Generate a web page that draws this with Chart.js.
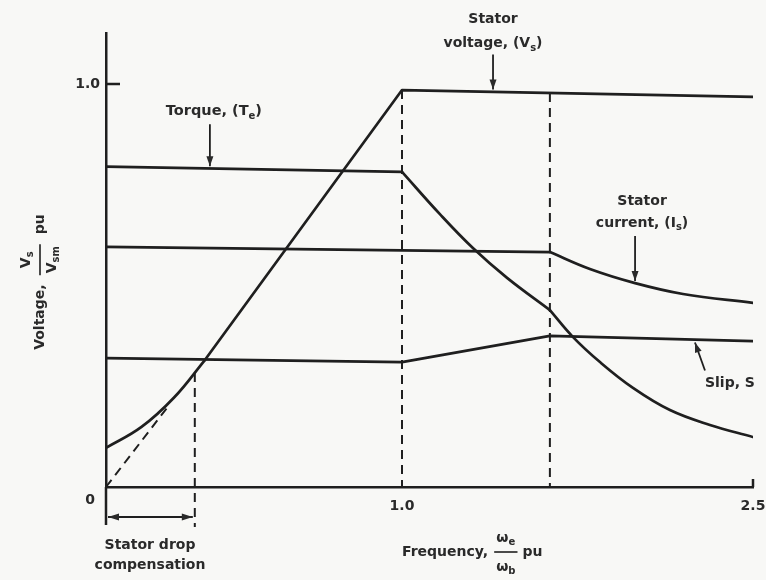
<!DOCTYPE html>
<html lang="en">
<head>
<meta charset="UTF-8">
<title>Variable frequency characteristics</title>
<script src="https://cdn.jsdelivr.net/npm/chart.js"></script>
<style>
  html, body { margin: 0; padding: 0; background: #f8f8f6; }
  #wrap { width: 766px; height: 580px; }
</style>
</head>
<body>
<div id="wrap"><canvas id="chart" width="766" height="580"></canvas></div>
<script>
// all values in pu
const baseFreq = 1.0;        // end of constant torque region
const fwFreq = 1.632;        // start of high speed region
const dropFreq = 0.30;       // end of stator drop compensation

// stator voltage
const voltBoostX = [0, 0.12, 0.23, 0.334];
const voltBoostY = [0.097, 0.149, 0.222, 0.315];
const voltX = [0.334, 1.0, 2.5];
const voltY = [0.315, 0.985, 0.968];
const voltIdealX = [0, 0.21];
const voltIdealY = [0, 0.20];

// torque
const torqueFlatX = [0, 1.0];
const torqueFlatY = [0.795, 0.782];
const torqueFall1X = [1.0, 1.162, 1.303, 1.449, 1.632];
const torqueFall1Y = [0.782, 0.677, 0.593, 0.519, 0.439];
const torqueFall2X = [1.632, 1.731, 1.846, 1.987, 2.145, 2.316, 2.5];
const torqueFall2Y = [0.439, 0.372, 0.310, 0.246, 0.191, 0.154, 0.124];

// stator current
const currentFlatX = [0, 1.632];
const currentFlatY = [0.596, 0.583];
const currentFallX = [1.632, 1.803, 1.996, 2.201, 2.5];
const currentFallY = [0.583, 0.541, 0.506, 0.479, 0.457];

// slip
const slipX = [0, 1.0, 1.632, 2.5];
const slipY = [0.320, 0.310, 0.375, 0.362];

// vertical guides (top, bottom)
const dropGuideY = [0.283, -0.099];
const baseGuideY = [0.985, 0];
const fwGuideY = [0.978, 0];

const xTicks = [0, 1.0, 2.5];
const xTickLabels = ['0', '1.0', '2.5'];
const yTicks = [1.0];
const yTickLabels = ['1.0'];

const INK = '#1f1f1f';
const TEXT = '#2a2a2a';
const FONT = '"DejaVu Sans"';

// the frequency axis of the figure is drawn with 0..1.0 and 1.0..2.5 at different spacings
const KNEE = 1.0;
const KNEE_FRAC = 296 / 647;

class KneeScale extends Chart.LinearScale {
    static id = 'knee';
    static defaults = Chart.LinearScale.defaults;

    getPixelForValue(value) {
        if (value === null || value === undefined) return NaN;
        let f;
        if (value <= KNEE) f = (value - this.min) / (KNEE - this.min) * KNEE_FRAC;
        else f = KNEE_FRAC + (value - KNEE) / (this.max - KNEE) * (1 - KNEE_FRAC);
        return this.getPixelForDecimal(f);
    }

    getValueForPixel(pixel) {
        const f = this.getDecimalForPixel(pixel);
        if (f <= KNEE_FRAC) return this.min + f / KNEE_FRAC * (KNEE - this.min);
        return KNEE + (f - KNEE_FRAC) / (1 - KNEE_FRAC) * (this.max - KNEE);
    }
}
Chart.register(KneeScale);

const pts = (xs, ys) => xs.map((x, i) => ({ x: x, y: ys[i] }));

function solid(xs, ys, curved) {
    return {
        data: pts(xs, ys),
        borderColor: INK,
        borderWidth: 2.7,
        pointRadius: 0,
        fill: false,
        tension: curved ? 0.4 : 0,
        borderCapStyle: 'round',
        borderJoinStyle: 'round'
    };
}

function dashed(xs, ys) {
    return {
        data: pts(xs, ys),
        borderColor: INK,
        borderWidth: 2,
        borderDash: [9, 6],
        pointRadius: 0,
        fill: false,
        tension: 0,
        clip: false
    };
}

function sized(size, weight) {
    return (weight || 'bold') + ' ' + size + 'px ' + FONT;
}

// text made of [string, isSubscript] parts
function richWidth(ctx, parts, size) {
    let w = 0;
    parts.forEach(p => {
        ctx.font = sized(p[1] ? Math.round(size * 0.68) : size);
        w += ctx.measureText(p[0]).width;
    });
    return w;
}

function drawRich(ctx, parts, x, y, size, align) {
    const w = richWidth(ctx, parts, size);
    let cx = align === 'left' ? x : (align === 'right' ? x - w : x - w / 2);
    ctx.textAlign = 'left';
    ctx.textBaseline = 'middle';
    parts.forEach(p => {
        ctx.font = sized(p[1] ? Math.round(size * 0.68) : size);
        ctx.fillText(p[0], cx, y + (p[1] ? size * 0.34 : 0));
        cx += ctx.measureText(p[0]).width;
    });
    return w;
}

function drawFrac(ctx, num, den, x, y, size, up, down) {
    const w = Math.max(richWidth(ctx, num, size), richWidth(ctx, den, size)) + 4;
    drawRich(ctx, num, x + w / 2, y - up, size, 'center');
    drawRich(ctx, den, x + w / 2, y + down, size, 'center');
    ctx.beginPath();
    ctx.lineWidth = 1.6;
    ctx.moveTo(x, y);
    ctx.lineTo(x + w, y);
    ctx.stroke();
    return w;
}

function arrowHead(ctx, x1, y1, x2, y2, len, half) {
    const a = Math.atan2(y2 - y1, x2 - x1);
    ctx.beginPath();
    ctx.moveTo(x2, y2);
    ctx.lineTo(x2 - len * Math.cos(a) + half * Math.sin(a), y2 - len * Math.sin(a) - half * Math.cos(a));
    ctx.lineTo(x2 - len * Math.cos(a) - half * Math.sin(a), y2 - len * Math.sin(a) + half * Math.cos(a));
    ctx.closePath();
    ctx.fill();
}

function arrow(ctx, x1, y1, x2, y2) {
    ctx.beginPath();
    ctx.lineWidth = 1.8;
    ctx.moveTo(x1, y1);
    ctx.lineTo(x2, y2);
    ctx.stroke();
    arrowHead(ctx, x1, y1, x2, y2, 10, 3.5);
}

const annotations = {
    id: 'annotations',
    afterDatasetsDraw(chart) {
        const ctx = chart.ctx;
        const xs = chart.scales.x, ys = chart.scales.y;
        const X = v => xs.getPixelForValue(v), Y = v => ys.getPixelForValue(v);
        const x0 = X(0), y0 = Y(0);
        ctx.save();
        ctx.strokeStyle = INK;
        ctx.fillStyle = TEXT;
        ctx.lineCap = 'butt';

        // axis extras: extension of the y axis, inward tick marks
        ctx.beginPath();
        ctx.lineWidth = 2.5;
        ctx.moveTo(x0, y0);
        ctx.lineTo(x0, y0 + 38);
        ctx.moveTo(x0, Y(yTicks[0]));
        ctx.lineTo(x0 + 14, Y(yTicks[0]));
        ctx.moveTo(X(2.5), y0);
        ctx.lineTo(X(2.5), y0 - 8);
        ctx.stroke();

        // stator drop compensation span
        const ya = y0 + 30;
        ctx.beginPath();
        ctx.lineWidth = 1.8;
        ctx.moveTo(x0 + 2, ya);
        ctx.lineTo(X(dropFreq) - 2, ya);
        ctx.stroke();
        arrowHead(ctx, X(dropFreq), ya, x0 + 2, ya, 11, 3.5);
        arrowHead(ctx, x0, ya, X(dropFreq) - 2, ya, 11, 3.5);

        drawRich(ctx, [['Stator drop', false]], x0 + 44, y0 + 58, 14, 'center');
        drawRich(ctx, [['compensation', false]], x0 + 44, y0 + 78, 14, 'center');

        // origin label
        drawRich(ctx, [[xTickLabels[0], false]], x0 - 16, y0 + 13, 14, 'center');

        // torque
        const tx = X(0.351), tyTip = Y(0.791) - 2;
        arrow(ctx, tx, tyTip - 42, tx, tyTip);
        drawRich(ctx, [['Torque, (T', false], ['e', true], [')', false]], tx + 4, tyTip - 55, 14.5, 'center');

        // stator voltage
        const vx = X(1.389), vyTip = Y(0.979) - 3;
        arrow(ctx, vx, vyTip - 35, vx, vyTip);
        drawRich(ctx, [['Stator', false]], vx, vyTip - 70, 14, 'center');
        drawRich(ctx, [['voltage, (V', false], ['s', true], [')', false]], vx, vyTip - 46, 14, 'center');

        // stator current
        const cx = X(1.996), cyTip = Y(0.506) - 2;
        arrow(ctx, cx, cyTip - 45, cx, cyTip);
        drawRich(ctx, [['Stator', false]], cx + 7, cyTip - 80, 14, 'center');
        drawRich(ctx, [['current, (I', false], ['s', true], [')', false]], cx + 7, cyTip - 58, 14, 'center');

        // slip
        const sx = X(2.252), syTip = Y(0.366) + 3;
        arrow(ctx, sx + 10, syTip + 28, sx, syTip);
        drawRich(ctx, [['Slip, S', false]], sx + 10, syTip + 41, 14, 'left');

        // y axis title, rotated
        ctx.save();
        ctx.translate(40, 282);
        ctx.rotate(-Math.PI / 2);
        const yParts1 = [['Voltage,', false]];
        const yNum = [['V', false], ['s', true]];
        const yDen = [['V', false], ['sm', true]];
        const w1 = richWidth(ctx, yParts1, 14);
        const wf = Math.max(richWidth(ctx, yNum, 14), richWidth(ctx, yDen, 14)) + 4;
        const w3 = richWidth(ctx, [['pu', false]], 14);
        let px = -(w1 + 9 + wf + 10 + w3) / 2;
        drawRich(ctx, yParts1, px, 0, 14, 'left');
        px += w1 + 9;
        drawFrac(ctx, yNum, yDen, px, 0, 14, 14, 12);
        px += wf + 10;
        drawRich(ctx, [['pu', false]], px, 0, 14, 'left');
        ctx.restore();

        // x axis title
        let fx = X(1.0);
        const fy = y0 + 65;
        fx += drawRich(ctx, [['Frequency,', false]], fx, fy, 14, 'left') + 6;
        fx += drawFrac(ctx, [['\u03c9', false], ['e', true]], [['\u03c9', false], ['b', true]], fx, fy, 14, 14, 15) + 5;
        drawRich(ctx, [['pu', false]], fx, fy, 14, 'left');

        ctx.restore();
    }
};

const tickFont = { family: FONT, size: 14, weight: 'bold' };

new Chart(document.getElementById('chart'), {
    type: 'line',
    data: {
        datasets: [
            solid(voltBoostX, voltBoostY, true),
            solid(voltX, voltY, false),
            dashed(voltIdealX, voltIdealY),
            solid(torqueFlatX, torqueFlatY, false),
            solid(torqueFall1X, torqueFall1Y, true),
            solid(torqueFall2X, torqueFall2Y, true),
            solid(currentFlatX, currentFlatY, false),
            solid(currentFallX, currentFallY, true),
            solid(slipX, slipY, false),
            dashed([dropFreq, dropFreq], dropGuideY),
            dashed([baseFreq, baseFreq], baseGuideY),
            dashed([fwFreq, fwFreq], fwGuideY)
        ]
    },
    options: {
        responsive: false,
        animation: false,
        events: [],
        layout: { padding: { top: 33, right: 0, bottom: 0, left: 0 } },
        plugins: {
            legend: { display: false },
            tooltip: { enabled: false }
        },
        scales: {
            x: {
                type: 'knee',
                min: 0,
                max: 2.5,
                grid: { display: false, drawTicks: false },
                border: { display: true, color: INK, width: 2.5 },
                ticks: {
                    autoSkip: false,
                    maxRotation: 0,
                    padding: 11,
                    color: TEXT,
                    font: tickFont,
                    callback: (v, i) => (i === 0 ? '' : xTickLabels[i])
                },
                afterBuildTicks: s => { s.ticks = xTicks.map(v => ({ value: v })); },
                afterFit: s => { s.height = 93; s.paddingLeft = 0; s.paddingRight = 13; }
            },
            y: {
                min: 0,
                max: 1.1266,
                grid: { display: false, drawTicks: false },
                border: { display: true, color: INK, width: 2.5 },
                ticks: {
                    padding: 6,
                    color: TEXT,
                    font: tickFont,
                    callback: (v, i) => yTickLabels[i]
                },
                afterBuildTicks: s => { s.ticks = yTicks.map(v => ({ value: v })); },
                afterFit: s => { s.width = 106; }
            }
        }
    },
    plugins: [annotations]
});
</script>
</body>
</html>
